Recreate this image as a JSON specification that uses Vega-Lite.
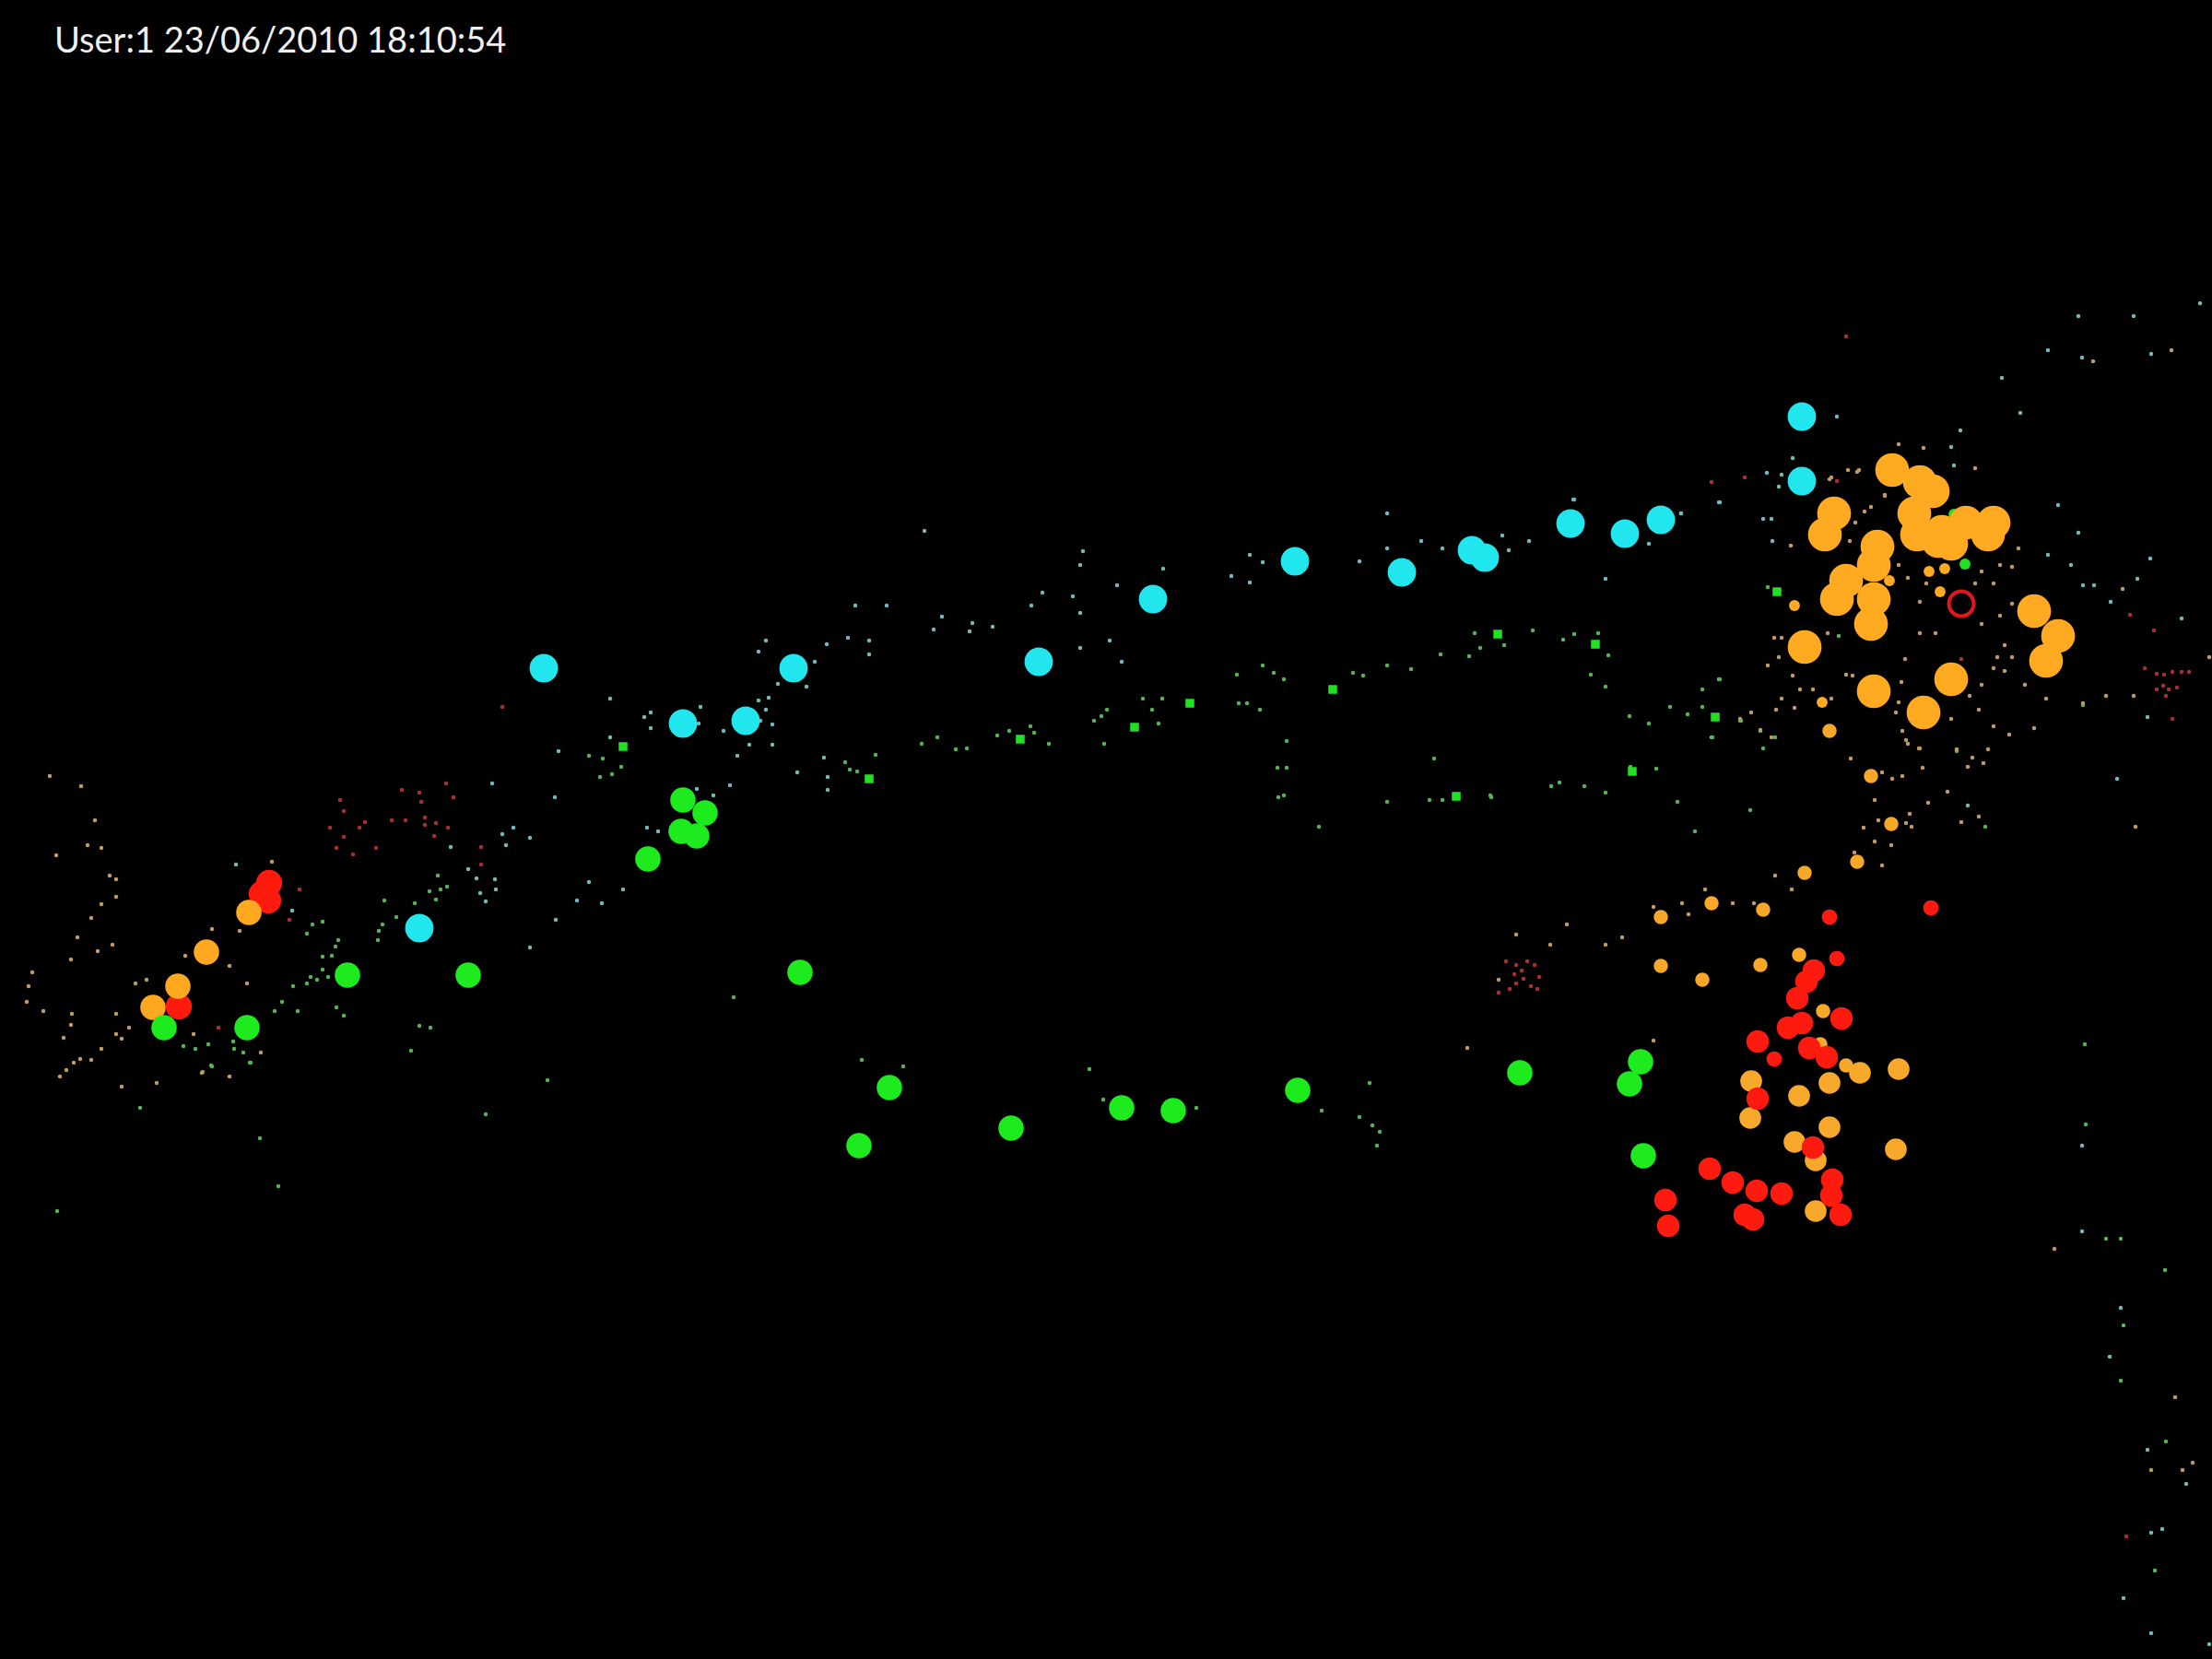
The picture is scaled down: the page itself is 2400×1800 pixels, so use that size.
{
"$schema":"https://vega.github.io/schema/vega-lite/v6.json",
"width":2400,"height":1800,
"autosize":{"type":"fit","contains":"padding"},
"padding":0,
"background":"#000000",
"config":{"view":{"stroke":null}},
"encoding":{
 "x":{"field":"x","type":"quantitative","scale":{"domain":[0,2400],"nice":false,"zero":false},"axis":null},
 "y":{"field":"y","type":"quantitative","scale":{"domain":[0,1800],"nice":false,"zero":false,"reverse":true},"axis":null}
},
"layer":[
{
"data":{"values":[
{"x":369,"y":868,"g":"dr"},{"x":373,"y":880,"g":"dr"},{"x":358,"y":898,"g":"dr"},{"x":390,"y":898,"g":"dr"},{"x":396,"y":892,"g":"dr"},{"x":383,"y":927,"g":"dr"},{"x":365,"y":920,"g":"dr"},{"x":373,"y":908,"g":"dr"},{"x":325,"y":965,"g":"dr"},{"x":314,"y":998,"g":"dr"},{"x":237,"y":1115,"g":"dr"},
{"x":545,"y":767,"g":"dr"},{"x":436,"y":857,"g":"dr"},{"x":455,"y":860,"g":"dr"},{"x":484,"y":850,"g":"dr"},{"x":492,"y":865,"g":"dr"},{"x":457,"y":870,"g":"dr"},{"x":425,"y":890,"g":"dr"},{"x":440,"y":890,"g":"dr"},{"x":461,"y":887,"g":"dr"},{"x":473,"y":893,"g":"dr"},{"x":486,"y":898,"g":"dr"},{"x":461,"y":895,"g":"dr"},{"x":471,"y":907,"g":"dr"},{"x":408,"y":920,"g":"dr"},{"x":522,"y":919,"g":"dr"},{"x":522,"y":938,"g":"dr"},
{"x":1634,"y":1043,"g":"dr"},{"x":1645,"y":1047,"g":"dr"},{"x":1657,"y":1043,"g":"dr"},{"x":1665,"y":1047,"g":"dr"},{"x":1643,"y":1057,"g":"dr"},{"x":1653,"y":1062,"g":"dr"},{"x":1645,"y":1067,"g":"dr"},{"x":1661,"y":1070,"g":"dr"},{"x":1670,"y":1060,"g":"dr"},{"x":1638,"y":1073,"g":"dr"},{"x":1626,"y":1077,"g":"dr"},{"x":1668,"y":1073,"g":"dr"},{"x":1651,"y":1053,"g":"dr"},
{"x":2327,"y":725,"g":"dr"},{"x":2340,"y":731,"g":"dr"},{"x":2348,"y":732,"g":"dr"},{"x":2357,"y":729,"g":"dr"},{"x":2367,"y":729,"g":"dr"},{"x":2375,"y":729,"g":"dr"},{"x":2347,"y":744,"g":"dr"},{"x":2353,"y":748,"g":"dr"},{"x":2362,"y":746,"g":"dr"},{"x":2340,"y":748,"g":"dr"},{"x":2350,"y":755,"g":"dr"},{"x":2357,"y":780,"g":"dr"},
{"x":2311,"y":667,"g":"dr"},{"x":2337,"y":684,"g":"dr"},{"x":1857,"y":523,"g":"dr"},{"x":1893,"y":518,"g":"dr"},{"x":2128,"y":715,"g":"dr"},{"x":1993,"y":522,"g":"dr"},{"x":2003,"y":365,"g":"dr"},{"x":2307,"y":1667,"g":"dr"},
{"x":317,"y":988,"g":"dc"},{"x":256,"y":938,"g":"dc"},
{"x":928,"y":657,"g":"dc"},{"x":962,"y":657,"g":"dc"},{"x":831,"y":695,"g":"dc"},{"x":823,"y":707,"g":"dc"},{"x":897,"y":699,"g":"dc"},{"x":920,"y":692,"g":"dc"},{"x":943,"y":695,"g":"dc"},{"x":943,"y":710,"g":"dc"},{"x":875,"y":745,"g":"dc"},{"x":844,"y":742,"g":"dc"},{"x":884,"y":718,"g":"dc"},{"x":834,"y":757,"g":"dc"},{"x":823,"y":760,"g":"dc"},{"x":831,"y":770,"g":"dc"},{"x":838,"y":786,"g":"dc"},{"x":825,"y":782,"g":"dc"},{"x":813,"y":808,"g":"dc"},{"x":838,"y":808,"g":"dc"},{"x":800,"y":820,"g":"dc"},{"x":785,"y":793,"g":"dc"},{"x":760,"y":767,"g":"dc"},{"x":758,"y":785,"g":"dc"},{"x":706,"y":773,"g":"dc"},{"x":699,"y":778,"g":"dc"},{"x":706,"y":790,"g":"dc"},{"x":662,"y":758,"g":"dc"},{"x":662,"y":800,"g":"dc"},{"x":606,"y":815,"g":"dc"},{"x":534,"y":850,"g":"dc"},{"x":602,"y":865,"g":"dc"},{"x":575,"y":909,"g":"dc"},{"x":545,"y":905,"g":"dc"},{"x":557,"y":898,"g":"dc"},{"x":549,"y":917,"g":"dc"},{"x":517,"y":953,"g":"dc"},{"x":537,"y":954,"g":"dc"},{"x":538,"y":965,"g":"dc"},{"x":521,"y":969,"g":"dc"},{"x":527,"y":978,"g":"dc"},{"x":508,"y":943,"g":"dc"},{"x":489,"y":919,"g":"dc"},{"x":639,"y":957,"g":"dc"},{"x":676,"y":965,"g":"dc"},{"x":626,"y":977,"g":"dc"},{"x":653,"y":980,"g":"dc"},{"x":603,"y":998,"g":"dc"},{"x":575,"y":1028,"g":"dc"},{"x":792,"y":852,"g":"dc"},{"x":774,"y":863,"g":"dc"},{"x":756,"y":856,"g":"dc"},{"x":702,"y":898,"g":"dc"},{"x":714,"y":902,"g":"dc"},{"x":894,"y":822,"g":"dc"},{"x":898,"y":843,"g":"dc"},{"x":898,"y":857,"g":"dc"},{"x":865,"y":838,"g":"dc"},
{"x":1003,"y":576,"g":"dc"},{"x":1175,"y":598,"g":"dc"},{"x":1172,"y":613,"g":"dc"},{"x":1131,"y":643,"g":"dc"},{"x":1164,"y":647,"g":"dc"},{"x":1119,"y":657,"g":"dc"},{"x":1172,"y":665,"g":"dc"},{"x":1212,"y":635,"g":"dc"},{"x":1262,"y":617,"g":"dc"},{"x":1022,"y":669,"g":"dc"},{"x":1013,"y":683,"g":"dc"},{"x":1055,"y":676,"g":"dc"},{"x":1052,"y":685,"g":"dc"},{"x":1077,"y":680,"g":"dc"},{"x":1172,"y":703,"g":"dc"},{"x":1204,"y":695,"g":"dc"},{"x":1217,"y":718,"g":"dc"},{"x":1356,"y":602,"g":"dc"},{"x":1370,"y":610,"g":"dc"},{"x":1336,"y":625,"g":"dc"},{"x":1356,"y":632,"g":"dc"},{"x":1505,"y":557,"g":"dc"},{"x":1505,"y":595,"g":"dc"},{"x":1542,"y":587,"g":"dc"},{"x":1475,"y":609,"g":"dc"},{"x":1565,"y":595,"g":"dc"},{"x":1630,"y":581,"g":"dc"},{"x":1637,"y":597,"g":"dc"},{"x":1659,"y":587,"g":"dc"},{"x":1708,"y":542,"g":"dc"},{"x":1742,"y":628,"g":"dc"},{"x":1789,"y":590,"g":"dc"},{"x":1824,"y":557,"g":"dc"},{"x":1866,"y":545,"g":"dc"},
{"x":2172,"y":410,"g":"dc"},{"x":2192,"y":448,"g":"dc"},{"x":2127,"y":467,"g":"dc"},{"x":2117,"y":485,"g":"dc"},{"x":2233,"y":548,"g":"dc"},{"x":2255,"y":578,"g":"dc"},{"x":2222,"y":602,"g":"dc"},{"x":2247,"y":613,"g":"dc"},{"x":2260,"y":635,"g":"dc"},{"x":2272,"y":635,"g":"dc"},{"x":2290,"y":653,"g":"dc"},{"x":1913,"y":563,"g":"dc"},{"x":1922,"y":563,"g":"dc"},{"x":1923,"y":587,"g":"dc"},{"x":1930,"y":528,"g":"dc"},{"x":1917,"y":513,"g":"dc"},{"x":1865,"y":545,"g":"dc"},{"x":1865,"y":737,"g":"dc"},{"x":1857,"y":800,"g":"dc"},
{"x":2387,"y":329,"g":"dc"},{"x":2255,"y":343,"g":"dc"},{"x":2315,"y":343,"g":"dc"},{"x":2222,"y":380,"g":"dc"},{"x":2259,"y":388,"g":"dc"},{"x":2334,"y":384,"g":"dc"},{"x":2333,"y":606,"g":"dc"},{"x":2319,"y":628,"g":"dc"},{"x":2367,"y":671,"g":"dc"},{"x":2330,"y":778,"g":"dc"},{"x":2297,"y":845,"g":"dc"},{"x":2135,"y":874,"g":"dc"},
{"x":1993,"y":452,"g":"dc"},{"x":1945,"y":497,"g":"dc"},{"x":1933,"y":515,"g":"dc"},{"x":1707,"y":542,"g":"dc"},{"x":1824,"y":557,"g":"dc"},{"x":2120,"y":505,"g":"dc"},
{"x":2259,"y":1243,"g":"dc"},{"x":2259,"y":1336,"g":"dc"},{"x":2301,"y":1419,"g":"dc"},{"x":2289,"y":1472,"g":"dc"},{"x":2330,"y":1573,"g":"dc"},{"x":2372,"y":1610,"g":"dc"},{"x":2334,"y":1663,"g":"dc"},{"x":2346,"y":1659,"g":"dc"},{"x":2304,"y":1734,"g":"dc"},{"x":2334,"y":1772,"g":"dc"},{"x":2397,"y":1784,"g":"dc"},
{"x":226,"y":1133,"g":"dg"},{"x":212,"y":1138,"g":"dg"},{"x":199,"y":1135,"g":"dg"},{"x":230,"y":1157,"g":"dg"},{"x":220,"y":1163,"g":"dg"},{"x":272,"y":1153,"g":"dg"},{"x":253,"y":1130,"g":"dg"},{"x":254,"y":1138,"g":"dg"},{"x":264,"y":1142,"g":"dg"},{"x":318,"y":1070,"g":"dg"},{"x":298,"y":1097,"g":"dg"},{"x":306,"y":1087,"g":"dg"},{"x":323,"y":1097,"g":"dg"},{"x":333,"y":1067,"g":"dg"},{"x":337,"y":1060,"g":"dg"},{"x":344,"y":1063,"g":"dg"},{"x":350,"y":1052,"g":"dg"},{"x":356,"y":1060,"g":"dg"},{"x":360,"y":1037,"g":"dg"},{"x":364,"y":1027,"g":"dg"},{"x":350,"y":1038,"g":"dg"},{"x":339,"y":1003,"g":"dg"},{"x":350,"y":1000,"g":"dg"},{"x":333,"y":1013,"g":"dg"},{"x":367,"y":1020,"g":"dg"},{"x":373,"y":1102,"g":"dg"},{"x":365,"y":1093,"g":"dg"},{"x":455,"y":1113,"g":"dg"},{"x":467,"y":1115,"g":"dg"},{"x":446,"y":1140,"g":"dg"},
{"x":639,"y":820,"g":"dg"},{"x":654,"y":823,"g":"dg"},{"x":651,"y":843,"g":"dg"},{"x":664,"y":840,"g":"dg"},{"x":674,"y":832,"g":"dg"},{"x":485,"y":962,"g":"dg"},{"x":475,"y":950,"g":"dg"},{"x":466,"y":967,"g":"dg"},{"x":473,"y":976,"g":"dg"},{"x":478,"y":965,"g":"dg"},{"x":450,"y":980,"g":"dg"},{"x":430,"y":995,"g":"dg"},{"x":417,"y":977,"g":"dg"},{"x":415,"y":1003,"g":"dg"},{"x":411,"y":1010,"g":"dg"},{"x":410,"y":1020,"g":"dg"},{"x":796,"y":1082,"g":"dg"},{"x":917,"y":827,"g":"dg"},{"x":922,"y":835,"g":"dg"},{"x":930,"y":837,"g":"dg"},{"x":950,"y":819,"g":"dg"},{"x":1000,"y":807,"g":"dg"},
{"x":1370,"y":722,"g":"dg"},{"x":1382,"y":730,"g":"dg"},{"x":1393,"y":737,"g":"dg"},{"x":1342,"y":732,"g":"dg"},{"x":1468,"y":730,"g":"dg"},{"x":1479,"y":733,"g":"dg"},{"x":1505,"y":722,"g":"dg"},{"x":1531,"y":726,"g":"dg"},{"x":1563,"y":710,"g":"dg"},{"x":1600,"y":687,"g":"dg"},{"x":1606,"y":703,"g":"dg"},{"x":1632,"y":700,"g":"dg"},{"x":1594,"y":712,"g":"dg"},{"x":1663,"y":684,"g":"dg"},{"x":1696,"y":694,"g":"dg"},{"x":1708,"y":688,"g":"dg"},{"x":1734,"y":687,"g":"dg"},{"x":1745,"y":711,"g":"dg"},{"x":1726,"y":732,"g":"dg"},{"x":1742,"y":745,"g":"dg"},{"x":1866,"y":737,"g":"dg"},{"x":1847,"y":748,"g":"dg"},{"x":1812,"y":767,"g":"dg"},{"x":1831,"y":775,"g":"dg"},{"x":1847,"y":767,"g":"dg"},{"x":1889,"y":782,"g":"dg"},{"x":1768,"y":777,"g":"dg"},{"x":1789,"y":785,"g":"dg"},{"x":1858,"y":800,"g":"dg"},{"x":1240,"y":758,"g":"dg"},{"x":1261,"y":758,"g":"dg"},{"x":1250,"y":770,"g":"dg"},{"x":1201,"y":770,"g":"dg"},{"x":1187,"y":782,"g":"dg"},{"x":1195,"y":777,"g":"dg"},{"x":1257,"y":785,"g":"dg"},{"x":1344,"y":763,"g":"dg"},{"x":1353,"y":763,"g":"dg"},{"x":1367,"y":770,"g":"dg"},{"x":1082,"y":798,"g":"dg"},{"x":1095,"y":793,"g":"dg"},{"x":1118,"y":788,"g":"dg"},{"x":1122,"y":795,"g":"dg"},{"x":1138,"y":807,"g":"dg"},{"x":1198,"y":807,"g":"dg"},{"x":1017,"y":800,"g":"dg"},{"x":1037,"y":813,"g":"dg"},{"x":1049,"y":812,"g":"dg"},{"x":1396,"y":804,"g":"dg"},{"x":1386,"y":833,"g":"dg"},{"x":1396,"y":833,"g":"dg"},{"x":1393,"y":863,"g":"dg"},{"x":1387,"y":865,"g":"dg"},{"x":1556,"y":823,"g":"dg"},{"x":1505,"y":870,"g":"dg"},{"x":1551,"y":868,"g":"dg"},{"x":1565,"y":868,"g":"dg"},{"x":1581,"y":863,"g":"dg"},{"x":1617,"y":863,"g":"dg"},{"x":1683,"y":853,"g":"dg"},{"x":1692,"y":849,"g":"dg"},{"x":1719,"y":853,"g":"dg"},{"x":1742,"y":860,"g":"dg"},{"x":1769,"y":832,"g":"dg"},{"x":1772,"y":838,"g":"dg"},{"x":1797,"y":834,"g":"dg"},{"x":1820,"y":870,"g":"dg"},{"x":1431,"y":897,"g":"dg"},
{"x":1618,"y":865,"g":"dg"},{"x":1839,"y":902,"g":"dg"},{"x":1899,"y":879,"g":"dg"},{"x":1910,"y":793,"g":"dg"},{"x":1926,"y":800,"g":"dg"},{"x":1913,"y":812,"g":"dg"},{"x":1888,"y":782,"g":"dg"},
{"x":935,"y":1150,"g":"dg"},{"x":980,"y":1157,"g":"dg"},{"x":1182,"y":1160,"g":"dg"},{"x":1197,"y":1193,"g":"dg"},{"x":1298,"y":1202,"g":"dg"},{"x":1434,"y":1205,"g":"dg"},{"x":1486,"y":1175,"g":"dg"},{"x":1475,"y":1212,"g":"dg"},{"x":1489,"y":1221,"g":"dg"},{"x":1497,"y":1228,"g":"dg"},{"x":1494,"y":1243,"g":"dg"},
{"x":2263,"y":1220,"g":"dg"},{"x":2285,"y":1344,"g":"dg"},{"x":2301,"y":1344,"g":"dg"},{"x":2349,"y":1378,"g":"dg"},{"x":2304,"y":1438,"g":"dg"},{"x":2301,"y":1498,"g":"dg"},{"x":2350,"y":1564,"g":"dg"},{"x":2338,"y":1704,"g":"dg"},
{"x":152,"y":1202,"g":"dg"},{"x":229,"y":1156,"g":"dg"},{"x":271,"y":1153,"g":"dg"},{"x":282,"y":1235,"g":"dg"},{"x":302,"y":1287,"g":"dg"},{"x":62,"y":1314,"g":"dg"},{"x":527,"y":1209,"g":"dg"},{"x":594,"y":1172,"g":"dg"},
{"x":1918,"y":637,"g":"dg"},{"x":1995,"y":690,"g":"dg"},{"x":2123,"y":815,"g":"dg"},{"x":2154,"y":897,"g":"dg"},{"x":2260,"y":765,"g":"dg"},{"x":2262,"y":1133,"g":"dg"},
{"x":54,"y":842,"g":"do"},{"x":88,"y":853,"g":"do"},{"x":103,"y":890,"g":"do"},{"x":61,"y":928,"g":"do"},{"x":95,"y":917,"g":"do"},{"x":110,"y":920,"g":"do"},{"x":119,"y":950,"g":"do"},{"x":126,"y":954,"g":"do"},{"x":126,"y":973,"g":"do"},{"x":110,"y":981,"g":"do"},{"x":99,"y":996,"g":"do"},{"x":84,"y":1017,"g":"do"},{"x":106,"y":1032,"g":"do"},{"x":122,"y":1025,"g":"do"},{"x":77,"y":1041,"g":"do"},{"x":35,"y":1055,"g":"do"},{"x":31,"y":1070,"g":"do"},{"x":29,"y":1087,"g":"do"},{"x":47,"y":1097,"g":"do"},{"x":78,"y":1100,"g":"do"},{"x":77,"y":1112,"g":"do"},{"x":69,"y":1126,"g":"do"},{"x":126,"y":1100,"g":"do"},{"x":126,"y":1122,"g":"do"},{"x":140,"y":1115,"g":"do"},{"x":132,"y":1127,"g":"do"},{"x":110,"y":1138,"g":"do"},{"x":99,"y":1150,"g":"do"},{"x":87,"y":1149,"g":"do"},{"x":80,"y":1153,"g":"do"},{"x":72,"y":1161,"g":"do"},{"x":65,"y":1168,"g":"do"},{"x":132,"y":1179,"g":"do"},{"x":170,"y":1175,"g":"do"},{"x":147,"y":1067,"g":"do"},{"x":159,"y":1063,"g":"do"},{"x":201,"y":1037,"g":"do"},{"x":230,"y":1008,"g":"do"},{"x":249,"y":1048,"g":"do"},{"x":260,"y":1010,"g":"do"},{"x":295,"y":935,"g":"do"},{"x":210,"y":1122,"g":"do"},{"x":249,"y":1168,"g":"do"},{"x":283,"y":1142,"g":"do"},{"x":268,"y":1067,"g":"do"},{"x":219,"y":1164,"g":"do"},
{"x":2008,"y":823,"g":"do"},{"x":2064,"y":793,"g":"do"},{"x":2070,"y":807,"g":"do"},{"x":2082,"y":812,"g":"do"},{"x":2086,"y":833,"g":"do"},{"x":2042,"y":838,"g":"do"},{"x":2064,"y":842,"g":"do"},{"x":2053,"y":845,"g":"do"},{"x":2034,"y":868,"g":"do"},{"x":2092,"y":871,"g":"do"},{"x":2038,"y":890,"g":"do"},{"x":2022,"y":898,"g":"do"},{"x":2068,"y":893,"g":"do"},{"x":2074,"y":897,"g":"do"},{"x":2072,"y":883,"g":"do"},{"x":2034,"y":913,"g":"do"},{"x":2052,"y":917,"g":"do"},{"x":2042,"y":939,"g":"do"},{"x":2012,"y":925,"g":"do"},{"x":1926,"y":950,"g":"do"},{"x":1944,"y":965,"g":"do"},{"x":1850,"y":965,"g":"do"},{"x":1825,"y":980,"g":"do"},{"x":1832,"y":992,"g":"do"},{"x":1794,"y":984,"g":"do"},{"x":1880,"y":980,"g":"do"},{"x":1903,"y":980,"g":"do"},{"x":1700,"y":1003,"g":"do"},{"x":1645,"y":1014,"g":"do"},{"x":1682,"y":1025,"g":"do"},{"x":1742,"y":1025,"g":"do"},{"x":1760,"y":1017,"g":"do"},{"x":1626,"y":1063,"g":"do"},{"x":1592,"y":1137,"g":"do"},{"x":1794,"y":1129,"g":"do"},
{"x":2060,"y":482,"g":"do"},{"x":2087,"y":486,"g":"do"},{"x":2143,"y":508,"g":"do"},{"x":2190,"y":595,"g":"do"},{"x":2183,"y":615,"g":"do"},{"x":2170,"y":613,"g":"do"},{"x":2150,"y":620,"g":"do"},{"x":2163,"y":633,"g":"do"},{"x":2143,"y":633,"g":"do"},{"x":2183,"y":655,"g":"do"},{"x":2175,"y":700,"g":"do"},{"x":2167,"y":713,"g":"do"},{"x":2183,"y":713,"g":"do"},{"x":2163,"y":725,"g":"do"},{"x":2175,"y":728,"g":"do"},{"x":2197,"y":743,"g":"do"},{"x":2150,"y":743,"g":"do"},{"x":2147,"y":770,"g":"do"},{"x":2137,"y":755,"g":"do"},{"x":2220,"y":758,"g":"do"},{"x":2260,"y":763,"g":"do"},{"x":2207,"y":790,"g":"do"},{"x":2180,"y":797,"g":"do"},{"x":2285,"y":755,"g":"do"},{"x":2163,"y":788,"g":"do"},{"x":2117,"y":780,"g":"do"},{"x":2063,"y":740,"g":"do"},{"x":2067,"y":715,"g":"do"},{"x":2060,"y":762,"g":"do"},{"x":2083,"y":687,"g":"do"},{"x":2100,"y":687,"g":"do"},{"x":2150,"y":677,"g":"do"},{"x":2170,"y":668,"g":"do"},{"x":2090,"y":633,"g":"do"},{"x":2083,"y":653,"g":"do"},{"x":2060,"y":613,"g":"do"},{"x":2070,"y":627,"g":"do"},{"x":2023,"y":555,"g":"do"},{"x":2030,"y":550,"g":"do"},{"x":2013,"y":567,"g":"do"},{"x":2007,"y":587,"g":"do"},{"x":2045,"y":537,"g":"do"},{"x":2017,"y":510,"g":"do"},{"x":2005,"y":510,"g":"do"},{"x":1987,"y":518,"g":"do"},{"x":1943,"y":592,"g":"do"},{"x":1933,"y":692,"g":"do"},{"x":1925,"y":692,"g":"do"},{"x":1930,"y":713,"g":"do"},{"x":1918,"y":722,"g":"do"},{"x":1945,"y":733,"g":"do"},{"x":1953,"y":748,"g":"do"},{"x":1967,"y":748,"g":"do"},{"x":1947,"y":768,"g":"do"},{"x":1933,"y":758,"g":"do"},{"x":1927,"y":770,"g":"do"},{"x":1900,"y":773,"g":"do"},{"x":1888,"y":780,"g":"do"},{"x":1910,"y":792,"g":"do"},{"x":1922,"y":800,"g":"do"},{"x":1983,"y":687,"g":"do"},{"x":2003,"y":732,"g":"do"},{"x":2010,"y":733,"g":"do"},{"x":1987,"y":758,"g":"do"},{"x":2057,"y":773,"g":"do"},{"x":2068,"y":803,"g":"do"},{"x":2083,"y":812,"g":"do"},{"x":2157,"y":813,"g":"do"},{"x":2123,"y":813,"g":"do"},
{"x":2271,"y":392,"g":"do"},{"x":2356,"y":380,"g":"do"},{"x":2303,"y":639,"g":"do"},{"x":2397,"y":713,"g":"do"},{"x":2315,"y":755,"g":"do"},{"x":2140,"y":822,"g":"do"},{"x":2152,"y":828,"g":"do"},{"x":2135,"y":832,"g":"do"},{"x":2113,"y":859,"g":"do"},{"x":2147,"y":886,"g":"do"},{"x":2128,"y":892,"g":"do"},{"x":2317,"y":897,"g":"do"},{"x":1985,"y":520,"g":"do"},{"x":2015,"y":512,"g":"do"},{"x":2045,"y":538,"g":"do"},{"x":2229,"y":1355,"g":"do"},{"x":2360,"y":1516,"g":"do"},{"x":2334,"y":1595,"g":"do"},{"x":2368,"y":1595,"g":"do"},{"x":2379,"y":1587,"g":"do"},
{"x":1625,"y":688,"g":"GS"},{"x":1731,"y":699,"g":"GS"},{"x":1446,"y":748,"g":"GS"},{"x":1291,"y":763,"g":"GS"},{"x":1107,"y":802,"g":"GS"},{"x":1861,"y":778,"g":"GS"},{"x":1231,"y":789,"g":"GS"},{"x":943,"y":845,"g":"GS"},{"x":676,"y":810,"g":"GS"},{"x":1928,"y":642,"g":"GS"},{"x":1580,"y":864,"g":"GS"},{"x":1771,"y":837,"g":"GS"},
{"x":2132,"y":612,"g":"GC"},{"x":2120,"y":558,"g":"GC"},
{"x":1947,"y":657,"g":"OT"},{"x":2093,"y":620,"g":"OT"},{"x":2110,"y":617,"g":"OT"},{"x":2105,"y":642,"g":"OT"},{"x":2050,"y":630,"g":"OT"},{"x":1977,"y":762,"g":"OT"},
{"x":292,"y":958,"g":"RB"},{"x":291,"y":977,"g":"RB"},{"x":284,"y":970,"g":"RB"},{"x":194,"y":1092,"g":"RB"},
{"x":270,"y":990,"g":"OB"},{"x":224,"y":1033,"g":"OB"},{"x":193,"y":1070,"g":"OB"},{"x":166,"y":1093,"g":"OB"},
{"x":1985,"y":793,"g":"OS"},{"x":2030,"y":842,"g":"OS"},{"x":2052,"y":894,"g":"OS"},{"x":2015,"y":935,"g":"OS"},{"x":1958,"y":947,"g":"OS"},{"x":1857,"y":980,"g":"OS"},{"x":1913,"y":987,"g":"OS"},{"x":1802,"y":995,"g":"OS"},{"x":1802,"y":1048,"g":"OS"},{"x":1847,"y":1063,"g":"OS"},{"x":1910,"y":1047,"g":"OS"},{"x":1952,"y":1036,"g":"OS"},{"x":1978,"y":1097,"g":"OS"},{"x":1975,"y":1133,"g":"OS"},{"x":2003,"y":1156,"g":"OS"},
{"x":2018,"y":1164,"g":"OM"},{"x":2060,"y":1160,"g":"OM"},{"x":1900,"y":1173,"g":"OM"},{"x":1985,"y":1175,"g":"OM"},{"x":1952,"y":1189,"g":"OM"},{"x":1899,"y":1213,"g":"OM"},{"x":1985,"y":1223,"g":"OM"},{"x":1947,"y":1239,"g":"OM"},{"x":1970,"y":1259,"g":"OM"},{"x":2057,"y":1247,"g":"OM"},{"x":1970,"y":1314,"g":"OM"},
{"x":1968,"y":1053,"g":"RM"},{"x":1960,"y":1065,"g":"RM"},{"x":1950,"y":1083,"g":"RM"},{"x":1998,"y":1105,"g":"RM"},{"x":1955,"y":1110,"g":"RM"},{"x":1940,"y":1115,"g":"RM"},{"x":1907,"y":1130,"g":"RM"},{"x":1963,"y":1137,"g":"RM"},{"x":1982,"y":1147,"g":"RM"},{"x":1907,"y":1192,"g":"RM"},{"x":1967,"y":1245,"g":"RM"},{"x":1855,"y":1268,"g":"RM"},{"x":1880,"y":1283,"g":"RM"},{"x":1906,"y":1292,"g":"RM"},{"x":1933,"y":1295,"g":"RM"},{"x":1988,"y":1280,"g":"RM"},{"x":1987,"y":1297,"g":"RM"},{"x":1807,"y":1302,"g":"RM"},{"x":1810,"y":1330,"g":"RM"},{"x":1893,"y":1318,"g":"RM"},{"x":1902,"y":1323,"g":"RM"},{"x":1997,"y":1318,"g":"RM"},
{"x":2095,"y":985,"g":"RS"},{"x":1985,"y":995,"g":"RS"},{"x":1993,"y":1040,"g":"RS"},{"x":1925,"y":1149,"g":"RS"},
{"x":2053,"y":510,"g":"OL"},{"x":2083,"y":523,"g":"OL"},{"x":2097,"y":533,"g":"OL"},{"x":2077,"y":557,"g":"OL"},{"x":2080,"y":580,"g":"OL"},{"x":2107,"y":577,"g":"OL"},{"x":2133,"y":567,"g":"OL"},{"x":2163,"y":567,"g":"OL"},{"x":2157,"y":580,"g":"OL"},{"x":2117,"y":590,"g":"OL"},{"x":2103,"y":587,"g":"OL"},{"x":1990,"y":557,"g":"OL"},{"x":1980,"y":580,"g":"OL"},{"x":2037,"y":593,"g":"OL"},{"x":2033,"y":613,"g":"OL"},{"x":2003,"y":630,"g":"OL"},{"x":1993,"y":650,"g":"OL"},{"x":2033,"y":650,"g":"OL"},{"x":2030,"y":677,"g":"OL"},{"x":1958,"y":702,"g":"OL"},{"x":2207,"y":663,"g":"OL"},{"x":2233,"y":690,"g":"OL"},{"x":2220,"y":717,"g":"OL"},{"x":2033,"y":750,"g":"OL"},{"x":2117,"y":737,"g":"OL"},{"x":2087,"y":773,"g":"OL"},
{"x":741,"y":868,"g":"G"},{"x":765,"y":882,"g":"G"},{"x":739,"y":902,"g":"G"},{"x":756,"y":907,"g":"G"},{"x":703,"y":932,"g":"G"},{"x":868,"y":1055,"g":"G"},{"x":508,"y":1058,"g":"G"},{"x":377,"y":1058,"g":"G"},{"x":268,"y":1115,"g":"G"},{"x":178,"y":1115,"g":"G"},{"x":965,"y":1180,"g":"G"},{"x":932,"y":1243,"g":"G"},{"x":1097,"y":1224,"g":"G"},{"x":1217,"y":1202,"g":"G"},{"x":1273,"y":1205,"g":"G"},{"x":1408,"y":1183,"g":"G"},{"x":1649,"y":1164,"g":"G"},{"x":1780,"y":1152,"g":"G"},{"x":1768,"y":1176,"g":"G"},{"x":1783,"y":1254,"g":"G"},
{"x":1955,"y":452,"g":"C"},{"x":1955,"y":522,"g":"C"},{"x":1802,"y":564,"g":"C"},{"x":1763,"y":579,"g":"C"},{"x":1704,"y":568,"g":"C"},{"x":1611,"y":605,"g":"C"},{"x":1597,"y":597,"g":"C"},{"x":1521,"y":621,"g":"C"},{"x":1405,"y":609,"g":"C"},{"x":1251,"y":650,"g":"C"},{"x":1127,"y":718,"g":"C"},{"x":861,"y":725,"g":"C"},{"x":809,"y":782,"g":"C"},{"x":741,"y":785,"g":"C"},{"x":590,"y":725,"g":"C"},{"x":455,"y":1007,"g":"C"}
]},
"mark":{"type":"point","filled":true,"opacity":1,"strokeWidth":0},
"encoding":{
 "color":{"field":"g","type":"nominal","legend":null,"scale":{"type":"ordinal","domain":["dr","dc","dg","do","GS","GC","OT","RB","OB","OS","OM","RM","RS","OL","G","C"],"range":["#A83030","#72B8B8","#58B058","#C09A64","#22E022","#22E022","#FFAA22","#FF1A0E","#FFA820","#F8A828","#F8A82A","#FF1A10","#FF1A10","#FFAA20","#1EEB1E","#22E6EE"]}},
 "size":{"field":"g","type":"nominal","legend":null,"scale":{"type":"ordinal","domain":["dr","dc","dg","do","GS","GC","OT","RB","OB","OS","OM","RM","RS","OL","G","C"],"range":[20,20,20,20,90,140,140,800,760,240,560,600,280,1350,760,950]}},
 "shape":{"field":"g","type":"nominal","legend":null,"scale":{"type":"ordinal","domain":["dr","dc","dg","do","GS","GC","OT","RB","OB","OS","OM","RM","RS","OL","G","C"],"range":["circle","circle","circle","circle","square","circle","circle","circle","circle","circle","circle","circle","circle","circle","circle","circle"]}}
}
},
{
"data":{"values":[{"x":2128,"y":655}]},
"mark":{"type":"point","filled":false,"stroke":"#E3161C","strokeWidth":4,"size":720,"opacity":1}
},
{
"data":{"values":[{"x":59,"y":57,"t":"User:1 23/06/2010 18:10:54"}]},
"mark":{"type":"text","align":"left","baseline":"alphabetic","font":"Lato","fontSize":38,"color":"#F0F0F0"},
"encoding":{"text":{"field":"t","type":"nominal"}}
}
]
}
